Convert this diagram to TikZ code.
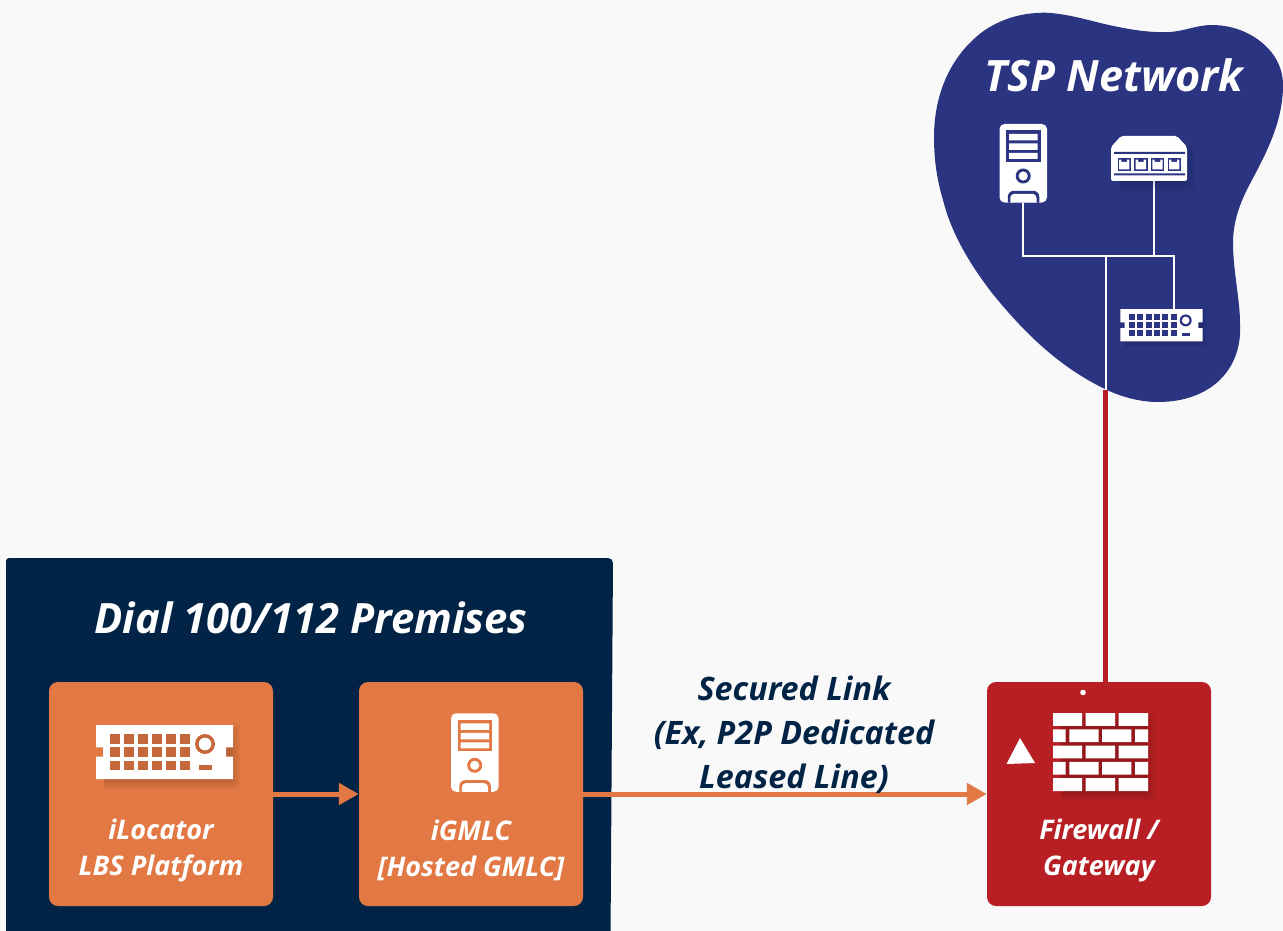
\documentclass[tikz,border=0pt]{standalone}
\usepackage{fontspec}
\setmainfont{Open Sans}
\usetikzlibrary{arrows.meta}
\definecolor{bgc}{HTML}{F9F9F9}
\definecolor{navyc}{HTML}{012345}
\definecolor{orangec}{HTML}{E27844}
\definecolor{redc}{HTML}{B71F24}
\definecolor{bluec}{HTML}{2A3480}
\definecolor{orangeh}{HTML}{C4673A}
\tikzset{
 card/.style={rounded corners=9pt,inner sep=0pt,minimum width=224pt,minimum height=224pt},
 lbl/.style={font=\bfseries\itshape\fontsize{27}{36}\selectfont,align=center,text=white,inner sep=0pt},
 title/.style={font=\bfseries\itshape\fontsize{41.8}{48}\selectfont,text=white,inner sep=0pt},
 linktxt/.style={font=\bfseries\itshape\fontsize{32.3}{44}\selectfont,align=center,text=navyc,inner sep=0pt},
 anchorbox/.style={inner sep=0pt,outer sep=0pt},
 netline/.style={draw=white,line width=1.7pt},
 flow/.style={draw=orangec,line width=5pt,yshift=0.5pt,-{Triangle[length=20pt,width=21pt]}},
 uplink/.style={draw=redc,line width=5pt},
 softshade/.style={black,opacity=.03},
}
% soft shadow of a box: left, top, right, bottom
\newcommand{\softbox}[4]{%
 \foreach \d in {0,2,4,6,8,10}{
  \fill[softshade,rounded corners=2pt] (#1+8,#2+10-\d) rectangle (#3-3+\d,#4+\d);}}
% server icon: top-left x, y, hole colour
\newcommand{\servericon}[3]{%
 \begin{scope}[shift={(#1,#2)}]
  \fill[white,rounded corners=5pt] (0,0) rectangle (47.5,78.5);
  \fill[#3] (6.5,6.5) rectangle (41,38);
  \fill[white] (9.5,10) rectangle (38,16.5) (9.5,19.5) rectangle (38,26) (9.5,29) rectangle (38,35);
  \fill[#3] (23.7,52) circle (7.5);
  \fill[white] (23.7,52) circle (4.6);
  \fill[#3] (8.3,78.5) [rounded corners=6pt] -- (8.3,66.8) -- (39.8,66.8) [sharp corners] -- (39.8,78.5) -- cycle;
  \fill[white] (10.8,78.5) [rounded corners=4pt] -- (10.8,69.8) -- (37,69.8) [sharp corners] -- (37,78.5) -- cycle;
 \end{scope}}
% rack icon: top-left x, y, scale, hole colour
\newcommand{\rackicon}[4]{%
 \begin{scope}[shift={(#1,#2)},x=#3pt,y=-#3pt]
  \softbox{0}{0}{137}{54}
  \fill[white] (0,0) -- (137,0) -- (137,22.3) -- (130,22.3) -- (130,31.7) -- (137,31.7) -- (137,54) -- (0,54) -- (0,31.7) -- (7,31.7) -- (7,22.3) -- (0,22.3) -- cycle;
  \foreach \c in {0,...,5}{\foreach \r in {0,1,2}{
   \fill[#4] (14.3+14*\c,9+13.3*\r) rectangle (24+14*\c,18.6+13.3*\r);}}
  \fill[#4] (109,19) circle (10);
  \fill[white] (109,19) circle (6.3);
  \fill[#4] (103,39.5) rectangle (115.5,45);
 \end{scope}}
\begin{document}
\begin{tikzpicture}[x=1pt,y=-1pt]
\useasboundingbox (0,0) rectangle (1283,931);
\fill[bgc] (0,0) rectangle (1283,931);
% TSP blob
\fill[bluec] (1045,12.7)
 .. controls (1068,13.5) and (1090,21) .. (1112,25.7)
 .. controls (1130,29.5) and (1150,33) .. (1170,32)
 .. controls (1185,31) and (1197,25) .. (1212,25)
 .. controls (1235,25) and (1258,35) .. (1272,53)
 .. controls (1279,62) and (1283,73) .. (1283,85)
 .. controls (1283,120) and (1268,150) .. (1252,180)
 .. controls (1241,200) and (1233,220) .. (1233,243)
 .. controls (1233,270) and (1240,300) .. (1240,323)
 .. controls (1243,370) and (1210,402) .. (1158,402)
 .. controls (1140,402) and (1122,397) .. (1107,390)
 .. controls (1065,370) and (1030,340) .. (992,293)
 .. controls (965,258) and (950,228) .. (943,200)
 .. controls (937,180) and (934,160) .. (934,137)
 .. controls (934,95) and (950,55) .. (985,30)
 .. controls (1005,17) and (1025,12.7) .. (1045,12.7) -- cycle;
\node[title,font=\bfseries\itshape\fontsize{43.2}{48}\selectfont] (tsptitle) at (1114,75) {TSP Network};
% premises panel
\fill[navyc] (6,940) [rounded corners=3pt] -- (6,558) [rounded corners=5pt] -- (613,558) [sharp corners] -- (610.5,940) -- cycle;
\node[title] (premtitle) at (311,618) {Dial 100/112 Premises};
% cards
\node[card,fill=orangec] (ilocator) at (161,794) {};
\node[card,fill=orangec] (igmlc) at (471,794) {};
\node[card,fill=redc] (firewall) at (1099,794) {};
% anchors for icons
\node[anchorbox,minimum width=47.5pt,minimum height=78.5pt] (tspserver) at (1023.2,163.2) {};
\node[anchorbox,minimum width=76pt,minimum height=45pt] (tspswitch) at (1149,158) {};
\node[anchorbox,minimum width=82pt,minimum height=32pt] (tsprack) at (1161,325) {};
\coordinate (hub) at (1105.7,256);
\coordinate (bloblow) at (1105.7,390);
% connectors
\draw[netline] (tspserver.south) |- (hub);
\draw[netline] (hub) -| (tsprack.north -| 1174,0);
\draw[netline] (tspswitch.south -| 1154,0) -- (1154,256);
\draw[uplink] (bloblow) -- (firewall.north -| bloblow);
\draw[netline] (hub) -- (bloblow);
\draw[flow] (ilocator.east) -- (igmlc.west);
\draw[flow] (igmlc.east) -- (firewall.west);
% icons
\servericon{999.5}{124}{bluec}
\servericon{451}{713.3}{orangec}
\rackicon{96}{725}{1}{orangeh}
\rackicon{1120.3}{309}{0.6}{bluec}
% switch icon
\begin{scope}[shift={(1111,136)}]
 \softbox{0}{10}{76}{45}
 \fill[white,rounded corners=2pt] (0,45) -- (0,11) -- (10,0) -- (66,0) -- (76,11) -- (76,45) -- cycle;
 \fill[bluec] (3,16) rectangle (74,18) (3,37.5) rectangle (74,39.5);
 \foreach \c in {0,1,2,3}{
  \fill[bluec] (6.5+16.7*\c,22) rectangle (19.8+16.7*\c,34.8);
  \fill[white] (8+16.7*\c,23.7) -- (10.3+16.7*\c,23.7) -- (10.3+16.7*\c,26) -- (16+16.7*\c,26) -- (16+16.7*\c,23.7) -- (18.3+16.7*\c,23.7) -- (18.3+16.7*\c,33.3) -- (8+16.7*\c,33.3) -- cycle;}
\end{scope}
% firewall details
\fill[white] (1083,692.5) circle (2.8);
\fill[white] (1020,738) -- (1035,763) -- (1006.5,764) -- cycle;
\begin{scope}[shift={(1053,713)}]
 \softbox{0}{0}{95}{78.5}
 \foreach \r in {0,2,4}{
  \fill[white] (0,16.3*\r) rectangle (29,12.8+16.3*\r) (32.7,16.3*\r) rectangle (62,12.8+16.3*\r) (65.5,16.3*\r) rectangle (95,12.8+16.3*\r);}
 \foreach \r in {1,3}{
  \fill[white] (0,16.3*\r) rectangle (12.7,12.8+16.3*\r) (16.3,16.3*\r) rectangle (45.5,12.8+16.3*\r) (49,16.3*\r) rectangle (78.3,12.8+16.3*\r) (82,16.3*\r) rectangle (95,12.8+16.3*\r);}
\end{scope}
% labels
\node[lbl] (l1) at (161,850) {iLocator\\LBS Platform};
\node[lbl] (l2) at (471,850) {iGMLC\\{[Hosted GMLC]}};
\node[lbl] (l3) at (1099,850) {Firewall /\\Gateway};
\node[linktxt] (link) at (794,735) {Secured Link\\(Ex, P2P Dedicated\\Leased Line)};
\end{tikzpicture}
\end{document}
